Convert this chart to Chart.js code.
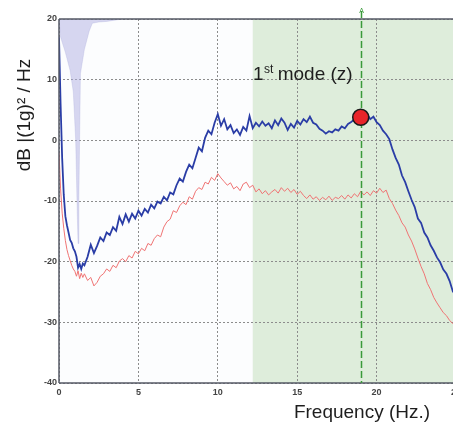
<!DOCTYPE html>
<html>
<head>
<meta charset="utf-8">
<script src="https://cdn.jsdelivr.net/npm/chart.js@4.4.1/dist/chart.umd.min.js"></script>
<style>
  html, body { margin: 0; padding: 0; background: #fff; overflow: hidden; }
  #wrap { width: 453px; height: 425px; overflow: hidden; }
</style>
</head>
<body>
<div id="wrap"><canvas id="myChartPsd" width="480" height="425"></canvas></div>
<script>
// frecventa (Hz) - pas 0.1 la inceput, apoi 0.2
var frecventa = [
  0, 0.1, 0.2, 0.3, 0.4, 0.5, 0.6, 0.7, 0.8, 0.9, 1.0, 1.1, 1.2, 1.3, 1.4, 1.5,
  1.6, 1.8,
  2.0, 2.2, 2.4, 2.6, 2.8,   3.0, 3.2, 3.4, 3.6, 3.8,   4.0, 4.2, 4.4, 4.6, 4.8,
  5.0, 5.2, 5.4, 5.6, 5.8,   6.0, 6.2, 6.4, 6.6, 6.8,   7.0, 7.2, 7.4, 7.6, 7.8,
  8.0, 8.2, 8.4, 8.6, 8.8,   9.0, 9.2, 9.4, 9.6, 9.8,   10.0, 10.2, 10.4, 10.6, 10.8,
  11.0, 11.2, 11.4, 11.6, 11.8,   12.0, 12.2, 12.4, 12.6, 12.8,   13.0, 13.2, 13.4, 13.6, 13.8,
  14.0, 14.2, 14.4, 14.6, 14.8,   15.0, 15.2, 15.4, 15.6, 15.8,   16.0, 16.2, 16.4, 16.6, 16.8,
  17.0, 17.2, 17.4, 17.6, 17.8,   18.0, 18.2, 18.4, 18.6, 18.8,   19.0, 19.2, 19.4, 19.6, 19.8,
  20.0, 20.2, 20.4, 20.6, 20.8,   21.0, 21.2, 21.4, 21.6, 21.8,   22.0, 22.2, 22.4, 22.6, 22.8,
  23.0, 23.2, 23.4, 23.6, 23.8,   24.0, 24.2, 24.4, 24.6, 24.8,
  25.0
];

// curba albastra (dB)
var psd_albastru = [
  17, 6, -3, -9, -12.5, -14, -15.2, -16.4, -16.9, -17.8, -18.3, -19.2, -21, -20.4, -21.2, -20.3,
  -20.6, -19.2,
  -17.2, -18.6, -17.4, -16.0, -16.6,   -15.2, -15.6, -14.3, -14.9, -12.6,   -13.8, -12.2, -13.4, -12.1, -12.9,
  -11.6, -12.4, -11.3, -11.9, -10.6,   -11.2, -10.1, -10.4, -9.3, -9.9,   -8.6, -8.9, -7.4, -6.3, -6.8,
  -5.2, -4.0, -4.6, -2.9, -1.2,   -1.8, 0.4, 1.6, 1.0, 2.9,   4.3, 2.4, 3.5, 1.8, 2.5,
  1.2, 1.8, 0.9, 2.2, 1.6,   4.0, 2.0, 2.9, 2.3, 3.1,   2.4, 2.8, 2.0, 3.3, 2.5,
  3.6, 2.9, 1.7, 2.7, 2.1,   3.2, 2.6, 3.5, 3.0, 3.9,   2.9, 2.6, 1.9, 1.6, 1.1,
  1.5, 1.3, 1.8, 1.6, 2.3,   2.0, 2.7, 3.0, 3.5, 3.6,   4.2, 3.9, 4.4, 3.5, 3.9,
  3.0, 2.5, 1.6, 1.0, 0.2,   -1.5, -2.9, -4.0, -5.8, -6.9,   -8.4, -9.8, -11.0, -12.9, -13.6,
  -15.2, -16.0, -17.3, -18.2, -19.3,   -20.1, -21.3, -22.0, -23.2, -24.9,
  -25.6
];

// curba rosie (dB)
var psd_rosu = [
  -2, -8, -12, -14.5, -16.5, -18, -19, -19.8, -20.6, -21.2, -21.6, -22.4, -21.5, -22.8, -21.9, -22.6,
  -22.0, -23.1,
  -22.6, -24.0, -23.4, -22.4, -22.0,   -21.2, -21.6, -20.6, -21.0, -19.9,   -19.5, -20.0, -19.0, -19.4, -18.3,
  -18.7, -17.8, -18.2, -17.0, -17.3,   -16.2, -15.6, -15.9, -14.3, -13.4,   -13.0, -11.6, -11.9, -10.8, -10.2,
  -10.6, -9.3, -9.7, -8.4, -7.8,   -8.1, -6.9, -7.2, -6.1, -6.6,   -5.5, -6.2, -6.8, -7.4, -7.0,
  -8.0, -7.6, -8.3, -7.2, -6.9,   -7.8, -7.4, -8.5, -8.0, -8.8,   -8.3, -9.0, -8.5, -8.1, -8.7,
  -7.8, -8.4, -7.9, -8.6, -8.1,   -8.9, -8.4, -9.1, -9.6, -9.0,   -9.7, -9.3, -9.9, -9.4, -9.8,
  -9.2, -9.9, -9.4, -9.6, -9.1,   -9.7, -9.0, -9.5, -8.8, -9.3,   -8.4, -9.0, -8.5, -9.1, -8.3,
  -8.7, -7.9, -8.6, -8.2, -9.6,   -10.4, -11.5, -12.4, -13.6, -14.3,   -15.6, -16.6, -17.9, -19.4, -20.8,
  -22.0, -23.6, -24.6, -25.9, -26.8,   -27.6, -28.4, -28.9, -29.7, -30.2,
  -30.6
];

// zona mov de sus (coerenta)
var frecventa_mov = [0, 0.1, 0.4, 0.7, 0.9, 1.05, 1.15, 1.2, 1.25, 1.35, 1.6, 1.9, 2.1, 2.5, 3.0, 3.5, 4.0];
var valori_mov = [20, 17, 14.5, 11.5, 8, 0, -12, -17, -10, 11, 15, 18, 19.3, 19.5, 19.6, 19.8, 20];

// primul mod
var mod_frecventa = 19.0;
var mod_valoare = 3.8;
var mod_eticheta = ['1', 'st', ' mode (z)'];
var zona_verde_start = 12.2;

var titlu_x = 'Frequency (Hz.)';
var titlu_y = 'dB |(1g)\u00B2 / Hz';

var FONT = '"Liberation Sans", Arial, sans-serif';

var fundal = {
    id: 'fundal',
    beforeDraw: function(chart) {
        var c = chart.ctx, a = chart.chartArea, x = chart.scales.x;
        c.save();
        c.fillStyle = '#ffffff';
        c.fillRect(0, 0, chart.width, chart.height);
        c.fillStyle = '#fcfdfe';
        c.fillRect(a.left, a.top, a.right - a.left, a.bottom - a.top);
        var xs = x.getPixelForValue(zona_verde_start);
        c.fillStyle = '#deeddb';
        c.fillRect(xs, a.top, a.right - xs, a.bottom - a.top);
        c.restore();
    }
};

var adnotari = {
    id: 'adnotari',
    afterDatasetsDraw: function(chart) {
        var c = chart.ctx, a = chart.chartArea, x = chart.scales.x, y = chart.scales.y;
        c.save();
        // rama
        c.strokeStyle = '#555a66';
        c.lineWidth = 1.5;
        c.beginPath();
        c.moveTo(a.left, a.top); c.lineTo(a.right + 30, a.top);
        c.moveTo(a.left, a.top); c.lineTo(a.left, a.bottom);
        c.moveTo(a.left, a.bottom); c.lineTo(a.right + 30, a.bottom);
        c.stroke();

        // linia verde punctata
        var xm = Math.round(x.getPixelForValue(mod_frecventa)) + 0.5;
        c.strokeStyle = '#3a9a3a';
        c.lineWidth = 1.5;
        c.setLineDash([7, 3]);
        c.beginPath();
        c.moveTo(xm, a.top - 8);
        c.lineTo(xm, a.bottom);
        c.stroke();
        c.setLineDash([]);
        c.fillStyle = '#3a9a3a';
        c.font = '7px ' + FONT;
        c.textAlign = 'center';
        c.textBaseline = 'bottom';
        c.fillText('A', xm, a.top - 4);

        // punctul rosu
        c.beginPath();
        c.arc(x.getPixelForValue(mod_frecventa), y.getPixelForValue(mod_valoare), 8, 0, Math.PI * 2);
        c.fillStyle = '#e8252a';
        c.fill();
        c.lineWidth = 1.5;
        c.strokeStyle = '#1a1a1a';
        c.stroke();

        // eticheta mod
        c.fillStyle = '#1e1e1e';
        c.textAlign = 'left';
        c.textBaseline = 'alphabetic';
        var px = 253, py = 80;
        c.font = '19px ' + FONT;
        c.fillText(mod_eticheta[0], px, py);
        px += c.measureText(mod_eticheta[0]).width + 0.5;
        c.font = '12px ' + FONT;
        c.fillText(mod_eticheta[1], px, py - 7);
        px += c.measureText(mod_eticheta[1]).width - 1;
        c.font = '19px ' + FONT;
        c.fillText(mod_eticheta[2], px, py);
        c.restore();
    },
    afterDraw: function(chart) {
        var c = chart.ctx;
        c.save();
        c.fillStyle = '#1e1e1e';
        c.font = '19px ' + FONT;
        c.textAlign = 'center';
        c.textBaseline = 'middle';
        c.fillText(titlu_x, 362, 413);
        c.translate(25, 115);
        c.rotate(-Math.PI / 2);
        c.fillText(titlu_y, 0, 0);
        c.restore();
    }
};

var ctx = document.getElementById('myChartPsd').getContext('2d');
new Chart(ctx, {
    type: 'line',
    data: {
        labels: frecventa,
        datasets: [{
            label: 'albastru',
            data: psd_albastru,
            borderColor: '#2a3da6',
            borderWidth: 1.8,
            pointRadius: 0,
            tension: 0,
            fill: false
        }, {
            label: 'rosu',
            data: psd_rosu,
            borderColor: '#f07474',
            borderWidth: 1,
            pointRadius: 0,
            tension: 0,
            fill: false
        }, {
            label: 'mov',
            data: frecventa_mov.map(function(f, i) { return { x: f, y: valori_mov[i] }; }),
            borderColor: 'rgba(160,160,215,0.5)',
            backgroundColor: 'rgba(175,175,225,0.5)',
            borderWidth: 0.5,
            pointRadius: 0,
            tension: 0,
            fill: 'end'
        }]
    },
    options: {
        responsive: false,
        animation: false,
        layout: { padding: { left: 0, top: 19, right: 24, bottom: 0 } },
        plugins: { legend: { display: false }, tooltip: { enabled: false } },
        scales: {
            x: {
                type: 'linear',
                min: 0,
                max: 25,
                afterFit: function(s) { s.height = 42; },
                ticks: {
                    stepSize: 5,
                    padding: 4,
                    maxRotation: 0,
                    color: '#444',
                    font: { family: FONT, size: 9, weight: 'bold' }
                },
                grid: { color: '#8c8c8c', lineWidth: 1, drawTicks: false },
                border: { display: false, dash: [2, 2] }
            },
            y: {
                min: -40,
                max: 20,
                afterFit: function(s) { s.width = 59; },
                ticks: {
                    stepSize: 10,
                    padding: 2,
                    color: '#444',
                    font: { family: FONT, size: 9, weight: 'bold' }
                },
                grid: { color: '#8c8c8c', lineWidth: 1, drawTicks: false },
                border: { display: false, dash: [2, 2] }
            }
        }
    },
    plugins: [fundal, adnotari]
});
</script>
</body>
</html>
